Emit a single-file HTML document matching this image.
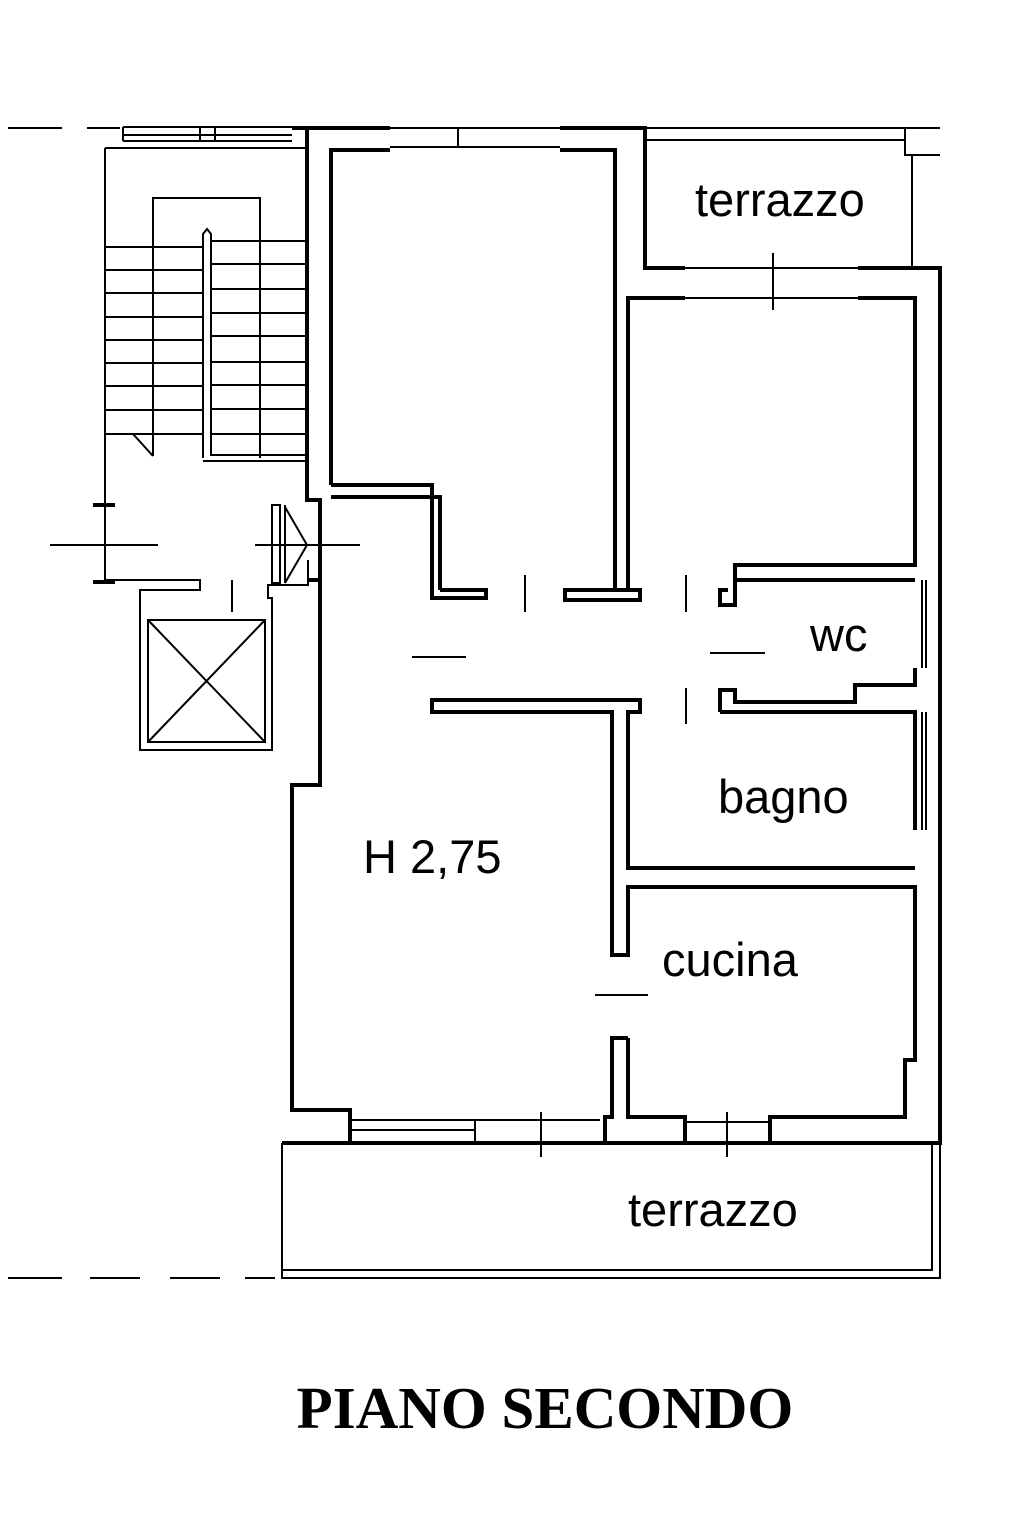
<!DOCTYPE html>
<html><head><meta charset="utf-8"><style>
html,body{margin:0;padding:0;background:#fff;width:1023px;height:1535px;overflow:hidden}
svg{display:block}
.t{font-family:"Liberation Sans",sans-serif;font-size:47px;fill:#000}
</style></head><body>
<svg width="1023" height="1535" viewBox="0 0 1023 1535" xmlns="http://www.w3.org/2000/svg">
<g fill="none" stroke="#000" stroke-width="2">
<path d="M8,128 H62 M87,128 H120"/>
<path d="M8,1278 H62 M90,1278 H140 M170,1278 H220 M245,1278 H275"/>
<path d="M123,127 H292 M123,135 H292 M123,141 H292 M123,127 V141 M200,127 V141 M215,127 V141"/>
<path d="M105,148 H307 M105,148 V580 H200 V590 H140 V750 H272 V598 H268 V585 H308 V560"/>
<path d="M148,620 H265 V742 H148 Z M148,620 L265,742 M265,620 L148,742"/>
<!-- stairs -->
<path d="M153,456 V198 H260 V458"/>
<path d="M105,247 H203 M105,270 H203 M105,293 H203 M105,317 H203 M105,340 H203 M105,363 H203 M105,386 H203 M105,410 H203 M105,434 H203"/>
<path d="M212,241 H307 M212,264 H307 M212,289 H307 M212,313 H307 M212,336 H307 M212,362 H307 M212,385 H307 M212,409 H307 M212,434 H307"/>
<path d="M203,458 V234 L207,229 L211,234 V455 H307 M203,461 H307"/>
<path d="M133,434 L153,456"/>
<path d="M93,505 H115 M93,582 H115" stroke-width="4"/>
<path d="M50,545 H158 M232,580 V612 M255,545 H360 M412,657 H466 M710,653 H765 M595,995 H648"/>
<path d="M525,575 V612 M686,575 V612 M686,688 V724"/>
<path d="M773,253 V310 M541,1112 V1157 M727,1112 V1157"/>
<path d="M272,505 V583 H280 V505 Z M285,505 V583 M285,507 L307,545 L285,583"/>
<path d="M645,128 H940 M645,140 H905 M912,155 V268 M905,128 V155 H940"/>
<path d="M685,268 H858 M685,298 H858"/>
<path d="M390,128 H560 M390,147 H560 M458,128 V147"/>
<path d="M282,1143 V1278 H940 V1143 M282,1270 H932 V1143"/>
<path d="M350,1120 H600 M350,1130 H475 M475,1120 V1143 M685,1122 H770"/>
<path d="M922,580 V668 M926,580 V668 M922,712 V830 M926,712 V830"/>
</g>
<g fill="none" stroke="#000" stroke-width="4" stroke-linejoin="miter">
<path d="M292,128 H390 M560,128 H645 V268 H685 M858,268 H940 V1143 H282"/>
<path d="M307,128 V500 H320 V580 H307"/>
<path d="M320,580 V690 H320 V785 H292 V1110 H350 V1143"/>
<path d="M331,485 V150 H390 M560,150 H615 V590 H640 V600 H565 V590 H615"/>
<path d="M331,497 H440 V590 M331,485 H432 V598 H486 V590 H440"/>
<path d="M628,590 V298 H685 M858,298 H915 V565 H735 V605 H720 V590 H728"/>
<path d="M735,605 V580 H915"/>
<path d="M720,712 V690 H735 V702 H855 V685 H915 V668"/>
<path d="M720,712 H915 V830 M915,868 H628 V712 H640 V700 H432 V712 H612 V955 H628 V887 H915 V1060 H905 V1117 H770 V1143"/>
<path d="M628,1038 H612 V1117 H605 V1143 M628,1038 V1117 H685 V1143"/>
</g>
<text class="t" x="695" y="216">terrazzo</text>
<text class="t" x="810" y="651">wc</text>
<text class="t" x="718" y="813">bagno</text>
<text class="t" x="363" y="873">H 2,75</text>
<text class="t" x="662" y="976">cucina</text>
<text class="t" x="628" y="1226">terrazzo</text>
<text x="545" y="1428" text-anchor="middle" style="font-family:'Liberation Serif',serif;font-weight:bold;font-size:59px">PIANO SECONDO</text>
</svg>
</body></html>
